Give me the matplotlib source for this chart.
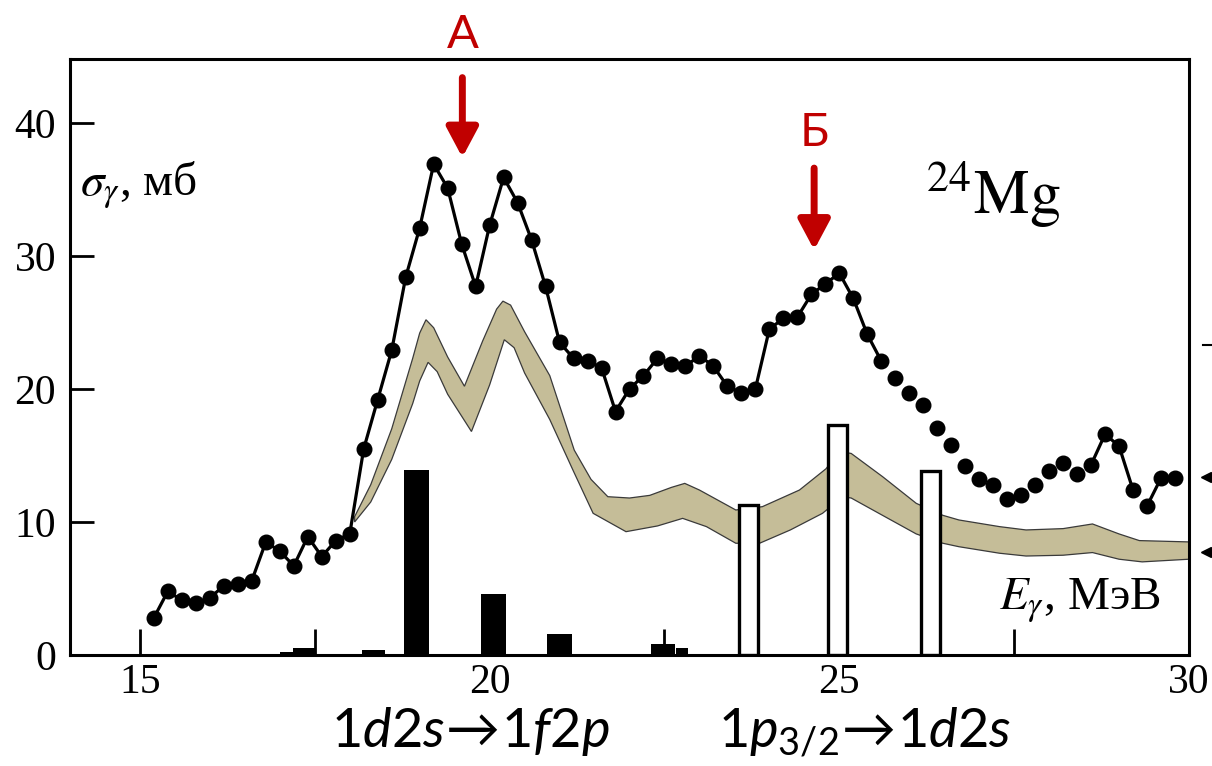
import matplotlib
matplotlib.use("Agg")
import matplotlib.pyplot as plt
import numpy as np
from matplotlib.lines import Line2D

plt.rcParams['mathtext.fontset'] = 'custom'
plt.rcParams['mathtext.rm'] = 'Lato'
plt.rcParams['mathtext.it'] = 'Lato:italic'

# measured cross section (dots), MeV / mb
E = [15.2, 15.4, 15.6, 15.8, 16.0, 16.2, 16.4, 16.6, 16.8, 17.0,
     17.2, 17.4, 17.6, 17.8, 18.0, 18.2, 18.4, 18.6, 18.8, 19.0,
     19.2, 19.4, 19.6, 19.8, 20.0, 20.2, 20.4, 20.6, 20.8, 21.0,
     21.2, 21.4, 21.6, 21.8, 22.0, 22.2, 22.4, 22.6, 22.8, 23.0,
     23.2, 23.4, 23.6, 23.8, 24.0, 24.2, 24.4, 24.6, 24.8, 25.0,
     25.2, 25.4, 25.6, 25.8, 26.0, 26.2, 26.4, 26.6, 26.8, 27.0,
     27.2, 27.4, 27.6, 27.8, 28.0, 28.2, 28.4, 28.6, 28.8, 29.0,
     29.2, 29.4, 29.6, 29.8]
sigma = [2.8, 4.8, 4.1, 3.9, 4.3, 5.2, 5.3, 5.6, 8.5, 7.8,
         6.7, 8.9, 7.4, 8.6, 9.1, 15.5, 19.2, 22.9, 28.4, 32.1,
         36.9, 35.1, 30.9, 27.7, 32.3, 35.9, 34.0, 31.2, 27.7, 23.5,
         22.3, 22.1, 21.6, 18.3, 20.0, 21.0, 22.3, 21.9, 21.7, 22.5,
         21.7, 20.2, 19.7, 20.0, 24.5, 25.3, 25.4, 27.1, 27.9, 28.7,
         26.8, 24.1, 22.1, 20.8, 19.7, 18.8, 17.1, 15.8, 14.2, 13.2,
         12.8, 11.7, 12.0, 12.8, 13.8, 14.4, 13.6, 14.3, 16.6, 15.7,
         12.4, 11.2, 13.3, 13.3]
# index ranges of points joined by a line
joined = [(0, 53), (67, 71), (71, 74)]

# calculated band
band_up_E = [18.07, 18.3, 18.6, 18.9, 19.0, 19.09, 19.2, 19.4, 19.64, 19.9,
             20.1, 20.19, 20.3, 20.5, 20.86, 21.21, 21.45, 21.69, 22.0, 22.29,
             22.6, 22.79, 23.0, 23.52, 23.9, 24.43, 24.81, 25.0, 25.17, 25.62,
             26.1, 26.48, 26.71, 27.29, 27.67, 28.2, 28.62, 29.0, 29.29, 30.0]
band_up = [10.4, 12.8, 17.0, 22.3, 24.2, 25.2, 24.6, 22.4, 20.2, 23.6,
           26.0, 26.6, 26.3, 24.3, 21.0, 15.4, 13.2, 11.9, 11.8, 12.0,
           12.6, 12.9, 12.4, 10.9, 11.15, 12.4, 14.0, 15.3, 15.15, 13.4,
           11.4, 10.5, 10.15, 9.65, 9.4, 9.5, 9.85, 9.1, 8.6, 8.5]
band_lo_E = [18.07, 18.3, 18.6, 18.9, 19.0, 19.12, 19.25, 19.4, 19.74, 20.0,
             20.21, 20.35, 20.5, 20.86, 21.2, 21.48, 21.95, 22.4, 22.76, 23.1,
             23.52, 23.86, 24.3, 24.76, 25.05, 25.17, 25.6, 26.1, 26.48, 26.71,
             27.29, 27.67, 28.2, 28.62, 29.0, 29.33, 30.0]
band_lo = [10.0, 11.5, 14.7, 18.9, 20.6, 22.0, 21.3, 19.6, 16.8, 20.3,
           23.7, 23.1, 21.2, 17.7, 13.8, 10.65, 9.27, 9.7, 10.27, 9.65,
           8.4, 8.4, 9.4, 10.65, 11.9, 11.8, 10.55, 9.1, 8.4, 8.14,
           7.65, 7.44, 7.5, 7.7, 7.2, 7.0, 7.2]

# transition strengths
black_E = [17.1, 17.35, 18.34, 18.95, 20.06, 21.0, 22.48, 22.75]
black_h = [0.2, 0.5, 0.4, 13.9, 4.6, 1.55, 0.85, 0.5]
black_w = [0.19, 0.31, 0.34, 0.36, 0.36, 0.35, 0.35, 0.18]
white_E = [23.7, 24.97, 26.3]
white_h = [11.3, 17.3, 13.85]

fig = plt.figure(figsize=(12.12, 7.66), dpi=100)
ax = fig.add_axes([70 / 1212, 111 / 766, 1119 / 1212, 596 / 766])

ax.fill(np.concatenate([band_up_E, band_lo_E[::-1]]),
        np.concatenate([band_up, band_lo[::-1]]),
        facecolor='#c5bd98', edgecolor='#3a3a3a', lw=0.9, zorder=1)
ax.bar(black_E, black_h, width=black_w, color='black', zorder=1.5)
ax.bar(white_E, white_h, width=0.27, facecolor='white', edgecolor='black',
       lw=2.4, zorder=2)

for a, b in joined:
    ax.plot(E[a:b], sigma[a:b], color='black', lw=2.3, zorder=3)
ax.plot(E, sigma, 'o', color='black', ms=10.5, zorder=4)

ax.set_xlim(14.0, 30.0)
ax.set_ylim(0, 44.8)
ax.set_xticks([15, 20, 25, 30])
ax.set_xticks([17.5, 22.5, 27.5], minor=True)
ax.set_yticks([0, 10, 20, 30, 40])
ax.tick_params(which='both', direction='in', width=2, labelsize=30)
ax.tick_params(axis='x', which='both', length=19, pad=6)
ax.tick_params(axis='y', length=17, pad=10)
for lab in ax.get_xticklabels() + ax.get_yticklabels():
    lab.set_family('Liberation Serif')
for s in ax.spines.values():
    s.set_linewidth(2.2)

ax.text(14.14, 35.3, r'$\sigma_\gamma$, мб', family='Liberation Serif',
        fontsize=34, ha='left', va='center', math_fontfamily='stix')
ax.text(27.2, 34.6, r'$^{24}\mathrm{Mg}$', fontsize=45, ha='center',
        va='center', math_fontfamily='stix')
ax.text(27.28, 4.1, r'$E_\gamma$, МэВ', family='Liberation Serif',
        fontsize=34, ha='left', va='center', math_fontfamily='stix')

red = '#c00000'
for x0, y0, y1, lab, ylab in [(19.61, 43.4, 37.4, 'А', 46.6),
                              (24.64, 36.6, 30.45, 'Б', 39.2)]:
    ax.annotate('', xy=(x0, y1), xytext=(x0, y0), annotation_clip=False,
                arrowprops=dict(arrowstyle='-|>,head_length=0.45,head_width=0.24',
                                color=red, lw=5, mutation_scale=40,
                                shrinkA=0, shrinkB=0))
    ax.text(x0, ylab, lab, color=red, family='Lato', fontsize=34,
            ha='center', va='center', clip_on=False)

fig.text(470 / 1212, 1 - 747 / 766, r'$1d2s\!\rightarrow\!1f2p$',
         fontsize=39, ha='center', va='baseline')
fig.text(865 / 1212, 1 - 747 / 766, r'$1p_{3/2}\!\rightarrow\!1d2s$',
         fontsize=39, ha='center', va='baseline')

# fragments of a neighbouring panel at the right edge
fig.add_artist(Line2D([1203 / 1212, 1212 / 1212], [1 - 345 / 766] * 2,
                      color='black', lw=1.5, transform=fig.transFigure))
for yy in [477, 552]:
    fig.add_artist(Line2D([1206 / 1212], [1 - yy / 766], marker='<', ms=7,
                          color='black', transform=fig.transFigure))

fig.savefig('out.png', dpi=100)
